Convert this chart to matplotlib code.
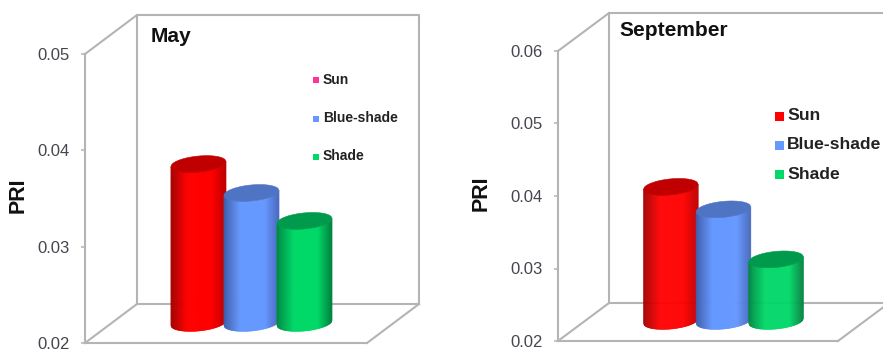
import numpy as np
import matplotlib
matplotlib.use('Agg')
import matplotlib.pyplot as plt
from matplotlib.collections import PolyCollection
from matplotlib.patches import Polygon, Rectangle
from matplotlib.transforms import Affine2D, IdentityTransform

plt.rcParams['font.family'] = ['Liberation Sans', 'DejaVu Sans']

categories = ['Sun', 'Blue-shade', 'Shade']
may_values = [0.0365, 0.0335, 0.0306]
sep_values = [0.0385, 0.0354, 0.0285]
may_ticks = [0.02, 0.03, 0.04, 0.05]
sep_ticks = [0.02, 0.03, 0.04, 0.05, 0.06]

W, H = 883, 349
GRAY = '#b4b4b4'
TICK_COLOR = '#45454f'

# edge, centre, far edge, top
red = ['#a50000', '#ff0000', '#c00000', '#c00000']
blue = ['#3f5fae', '#6699ff', '#4a6cc0', '#4f74c4']
green = ['#008a42', '#00d868', '#00843f', '#009a4c']
bar_colors = [red, blue, green]


def mix(c1, c2, f):
    a = np.array(matplotlib.colors.to_rgb(c1))
    b = np.array(matplotlib.colors.to_rgb(c2))
    return tuple(a + (b - a) * f)


def cylinder(ax, xc, base_y, top_y, half_w, cols, z):
    # xc, base_y, top_y are display pixels
    b, s = 8.0, 2.5
    xs = np.linspace(-half_w, half_w, 56)
    t = np.arccos(np.clip(xs / half_w, -1, 1))
    low = -b * np.sin(t) + s * xs / half_w
    up = b * np.sin(t) + s * xs / half_w

    strips = []
    colors = []
    for i in range(len(xs) - 1):
        strips.append([(xc + xs[i], base_y + low[i]),
                       (xc + xs[i + 1], base_y + low[i + 1]),
                       (xc + xs[i + 1], top_y + low[i + 1]),
                       (xc + xs[i], top_y + low[i])])
        f = i / (len(xs) - 2)
        if f < 0.3:
            colors.append(mix(cols[0], cols[1], f / 0.3))
        elif f < 0.75:
            colors.append(cols[1])
        else:
            colors.append(mix(cols[1], cols[2], (f - 0.75) / 0.25))
    body = PolyCollection(strips, facecolors=colors, edgecolors=colors, linewidths=0.4,
                          transform=IdentityTransform(), zorder=z, clip_on=False)
    ax.add_collection(body, autolim=False)

    top = np.column_stack([np.r_[xc + xs, xc + xs[::-1]],
                           np.r_[top_y + low, top_y + up[::-1]]])
    ax.add_patch(Polygon(top, closed=True, fc=cols[3], ec=cols[3], lw=0.4,
                         transform=IdentityTransform(), zorder=z + 0.1, clip_on=False))


def panel(fig, rect, ticks, values, dx, dy):
    left, top, right, bottom = rect
    ax = fig.add_axes([left / W, (H - bottom) / H, (right - left) / W, (bottom - top) / H])
    ax.set_xlim(-1.65, 3.67)
    ax.set_ylim(ticks[0], ticks[-1])
    ax.set_yticks(ticks, ['%.2f' % v for v in ticks])
    ax.set_xticks([])
    ax.tick_params(axis='y', length=3, width=1.1, color=GRAY, pad=8, labelsize=12,
                   labelcolor=TICK_COLOR)
    for name in ['top', 'right']:
        ax.spines[name].set_visible(False)
    for name in ['left', 'bottom']:
        ax.spines[name].set_color(GRAY)
        ax.spines[name].set_linewidth(1.5)
    ax.patch.set_alpha(0)

    back = ax.transAxes + Affine2D().translate(dx, dy)
    ax.plot([0, 0, 1, 1], [0, 1, 1, 0], color=GRAY, lw=1.5, transform=back, clip_on=False)
    ax.plot([0, 1], [0, 0], color=GRAY, lw=1.5, transform=back, clip_on=False)
    for corner in [(0, 0), (0, 1), (1, 0)]:
        x0, y0 = ax.transAxes.transform(corner)
        ax.plot([x0, x0 + dx], [y0, y0 + dy], color=GRAY, lw=1.5,
                transform=IdentityTransform(), clip_on=False)

    half_w = ax.transData.transform((0.52, 0))[0] - ax.transData.transform((0, 0))[0]
    for i, v in enumerate(values):
        xc, base_y = ax.transData.transform((i, ticks[0]))
        _, top_y = ax.transData.transform((i, v))
        cylinder(ax, xc + 26, base_y + 20, top_y + 20, half_w, bar_colors[i], 3 + i)
    return ax


def legend(fig, x, ys, text_x, size, box, colors):
    for name, y, c in zip(categories, ys, colors):
        fig.add_artist(Rectangle((x / W, (H - y - box / 2) / H), box / W, box / H,
                                 fc=c, ec='none', transform=fig.transFigure))
        fig.text(text_x / W, (H - y) / H, name, fontsize=size, fontweight='bold',
                 color='#222222', ha='left', va='center')


fig = plt.figure(figsize=(W / 100, H / 100), dpi=100)

panel(fig, (85, 54, 367, 343), may_ticks, may_values, 52, 39)
panel(fig, (558, 51, 838, 341), sep_ticks, sep_values, 51, 38)

fig.text(18.5 / W, (H - 195) / H, 'PRI', rotation=90, fontsize=15.5, fontweight='bold',
         ha='center', va='center', color='#111111')
fig.text(481.5 / W, (H - 193) / H, 'PRI', rotation=90, fontsize=15.5, fontweight='bold',
         ha='center', va='center', color='#111111')
fig.text(151 / W, (H - 37) / H, 'May', fontsize=15, fontweight='bold',
         ha='left', va='center', color='#111111')
fig.text(619 / W, (H - 31) / H, 'September', fontsize=15, fontweight='bold',
         ha='left', va='center', color='#111111')

legend(fig, 313, [79.5, 118.5, 156.5], 323, 10, 6, ['#ff3399', '#6699ff', '#00d868'])
legend(fig, 775, [116, 145, 174.5], 787, 12.6, 9, ['#ff0000', '#6699ff', '#00d868'])

fig.savefig('out.png', dpi=100)
plt.close(fig)
